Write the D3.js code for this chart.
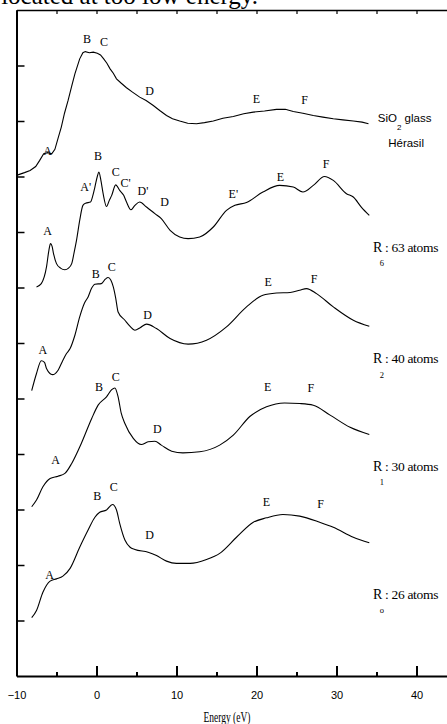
<!DOCTYPE html>
<html>
<head>
<meta charset="utf-8">
<script src="https://cdn.jsdelivr.net/npm/d3@7"></script>
<style>
  body { margin: 0; background: #fff; }
  svg { display: block; }
</style>
</head>
<body>
<svg id="chart" width="447" height="724"></svg>
<script>
  // ------------------------------------------------------------
  // Data (energy in eV, intensity in stacked arbitrary units)
  // ------------------------------------------------------------

  const sioEnergy = [-10, -9, -8.3, -7.6, -7.1, -6.6, -6.1, -5.6, -5.2, -4.8, -4.4, -4, -3.55, -3.1, -2.7, -2.1,
    -1.7, -1.4, -0.9, -0.4, 0.1, 0.5, 0.9, 1.3, 1.7, 2.1, 2.5, 3.1, 3.75, 4.5, 5.4, 6.2, 7.1, 7.9, 8.75, 9.5,
    10.4, 11.4, 12.5, 13.5, 14.6, 15.8, 17.1, 18.4, 19.6, 21, 22.5, 23.6, 24.6, 25.8, 27.1, 28.3, 29.6, 30.8,
    32.1, 33.2, 34];
  const sioValue = [9.02, 9.07, 9.11, 9.18, 9.29, 9.41, 9.43, 9.41, 9.49, 9.69, 9.89, 10.14, 10.37, 10.63, 10.85, 11.12,
    11.23, 11.25, 11.23, 11.24, 11.22, 11.19, 11.12, 11.04, 10.94, 10.86, 10.76, 10.68, 10.6, 10.52, 10.43, 10.37, 10.28, 10.19, 10.1, 10.04,
    10.0, 9.96, 9.95, 9.97, 10.0, 10.05, 10.08, 10.13, 10.16, 10.18, 10.21, 10.21, 10.17, 10.14, 10.1, 10.07, 10.04, 10.02,
    10.0, 9.98, 9.95];

  const r6Energy = [-7.5, -6.9, -6.25, -5.95, -5.75, -5.55, -5.4, -5, -4.5, -3.95, -3.5, -3.1, -2.8, -2.5, -2.1, -1.7,
    -1.35, -0.75, -0.45, -0.2, 0.1, 0.3, 0.55, 0.83, 1.25, 1.6, 1.9, 2.4, 2.9, 3.4, 3.75, 4.3, 4.8, 5.4, 6.25,
    7.3, 8.1, 9.2, 10.4, 11.45, 12.9, 14.6, 16.25, 17.3, 18.75, 20.8, 22.9, 24.6, 25.8, 27.1, 28.5, 29.6,
    31.25, 32.1, 33.1, 34.1];
  const r6Value = [7.01, 7.07, 7.37, 7.67, 7.79, 7.74, 7.63, 7.43, 7.35, 7.32, 7.35, 7.43, 7.63, 7.85, 8.21, 8.48,
    8.52, 8.54, 8.66, 8.81, 9.0, 9.08, 8.93, 8.69, 8.46, 8.57, 8.66, 8.85, 8.75, 8.66, 8.54, 8.4, 8.48, 8.54, 8.45,
    8.33, 8.24, 8.03, 7.91, 7.88, 7.91, 8.09, 8.39, 8.48, 8.53, 8.72, 8.84, 8.81, 8.72, 8.84, 9.0, 8.93,
    8.69, 8.63, 8.45, 8.3];

  const r2Energy = [-8.1, -7.5, -6.9, -6.5, -6.25, -5.5, -4.8, -4.2, -3.75, -3.3, -2.7, -2.1, -1.5, -1.05, -0.6, -0.2,
    0.6, 1.1, 1.45, 1.8, 2.1, 2.4, 2.7, 3.55, 4.2, 4.8, 5.5, 6.25, 7.5, 9.2, 11.45, 13.75, 16.25, 18.75, 20.8,
    22.5, 24.2, 25.4, 26.25, 27.5, 29.6, 32.1, 34.1];
  const r2Value = [5.14, 5.45, 5.68, 5.65, 5.54, 5.43, 5.51, 5.69, 5.81, 5.9, 6.14, 6.47, 6.72, 6.83, 6.99, 7.06,
    7.07, 7.15, 7.18, 7.13, 7.01, 6.81, 6.56, 6.41, 6.3, 6.23, 6.28, 6.34, 6.26, 6.08, 5.98, 6.05, 6.29, 6.65, 6.86,
    6.9, 6.91, 6.95, 6.98, 6.89, 6.65, 6.41, 6.3];

  const r1Energy = [-8.1, -7.5, -6.7, -5.8, -4.8, -3.95, -3.1, -1.9, -0.6, 0.2, 1.25, 1.9, 2.3, 2.7, 3.1, 3.55, 4.6,
    5.6, 6.45, 7.3, 8.1, 9.4, 10.8, 12.9, 15.4, 17.1, 19.2, 21.25, 23.5, 25.4, 27.1, 29.2, 31.7, 34.1];
  const r1Value = [3.05, 3.17, 3.41, 3.56, 3.6, 3.65, 3.83, 4.19, 4.64, 4.88, 5.03, 5.16, 5.19, 5.03, 4.73, 4.55, 4.28,
    4.17, 4.22, 4.23, 4.16, 4.05, 4.02, 4.04, 4.16, 4.34, 4.68, 4.85, 4.92, 4.91, 4.88, 4.7, 4.48, 4.35];

  const r0Energy = [-8.1, -7.5, -6.7, -5.8, -5, -4.2, -3.3, -2.1, -1.05, -0.2, 0.4, 1.25, 2, 2.5, 2.9, 3.55, 4.2, 4.8,
    6.45, 7.5, 8.75, 10, 11.7, 13.75, 15.4, 17.5, 19.6, 21.25, 23.3, 25.4, 27.9, 29.6, 32.1, 34.1];
  const r0Value = [1.05, 1.18, 1.51, 1.71, 1.75, 1.8, 1.94, 2.32, 2.63, 2.86, 2.95, 2.99, 3.09, 2.99, 2.75, 2.45, 2.32, 2.28,
    2.23, 2.17, 2.07, 2.03, 2.03, 2.1, 2.21, 2.5, 2.77, 2.85, 2.91, 2.88, 2.77, 2.68, 2.5, 2.4];

  // Peak letters: [text, energy, value]
  const peakLabels = [
    ["A", -6.1, 9.47], ["B", -1.2, 11.48], ["C", 0.95, 11.42], ["D", 6.65, 10.54], ["E", 20, 10.4], ["F", 26, 10.39],
    ["A", -6.1, 8.03], ["A'", -1.35, 8.81], ["B", 0.2, 9.38], ["C", 2.4, 9.09], ["C'", 3.65, 8.88], ["D'", 5.8, 8.75],
    ["D", 8.5, 8.55], ["E'", 17.1, 8.68], ["E", 23, 9.0], ["F", 28.7, 9.23],
    ["A", -6.7, 5.88], ["B", -0.1, 7.25], ["C", 1.9, 7.37], ["D", 6.4, 6.51], ["E", 21.45, 7.1], ["F", 27.2, 7.16],
    ["A", -5.1, 3.9], ["B", 0.3, 5.21], ["C", 2.4, 5.4], ["D", 7.6, 4.46], ["E", 21.4, 5.21], ["F", 26.8, 5.19],
    ["A", -5.85, 1.83], ["B", 0.1, 3.24], ["C", 2.15, 3.41], ["D", 6.65, 2.55], ["E", 21.25, 3.14], ["F", 28, 3.11]
  ];

  // Cluster labels: [main, subscript, rest, value]
  const clusterLabels = [
    ["R", "6", ": 63 atoms", 7.73],
    ["R", "2", ": 40 atoms", 5.72],
    ["R", "1", ": 30 atoms", 3.78],
    ["R", "o", ": 26 atoms", 1.47]
  ];

  const xTicksMajor = [-10, 0, 10, 20, 30, 40];
  const xTicksMinor = [-5, 5, 15, 25, 35, 45];
  const yTicks = [1, 2, 3, 4, 5, 6, 7, 8, 9, 10, 11];

  // ------------------------------------------------------------
  // Layout
  // ------------------------------------------------------------

  const svg = d3.select("#chart");
  const plotLeft = 16.5, plotTop = 10, plotBottom = 676;
  const x = d3.scaleLinear().domain([-10, 45]).range([plotLeft, plotLeft + 440]);
  const y = d3.scaleLinear().domain([0, 12]).range([plotBottom, plotTop]);

  const serif = "'Liberation Serif', 'Times New Roman', serif";
  const sans = "'Liberation Sans', Arial, sans-serif";

  // cut-off line of body text above the figure
  svg.append("text")
    .attr("x", 258).attr("y", 4)
    .attr("text-anchor", "end")
    .attr("font-family", serif).attr("font-size", 25)
    .text("located at too low energy.");

  // ------------------------------------------------------------
  // Axes / frame
  // ------------------------------------------------------------

  const bottomAxis = svg.append("g").attr("transform", `translate(0,${plotBottom})`)
    .call(d3.axisBottom(x).tickValues(xTicksMajor).tickSize(-10).tickSizeOuter(0).tickPadding(15)
      .tickFormat(d3.format("d")));
  bottomAxis.select(".domain").attr("stroke-width", 2);
  bottomAxis.selectAll(".tick line").attr("stroke-width", 2);
  bottomAxis.selectAll("text").attr("font-family", sans).attr("font-size", 11).attr("fill", "#000");

  const bottomMinor = svg.append("g").attr("transform", `translate(0,${plotBottom})`)
    .call(d3.axisBottom(x).tickValues(xTicksMinor).tickSize(-4).tickSizeOuter(0).tickFormat(""));
  bottomMinor.select(".domain").remove();
  bottomMinor.selectAll(".tick line").attr("stroke-width", 2);

  const topAxis = svg.append("g").attr("transform", `translate(0,${plotTop})`)
    .call(d3.axisTop(x).tickValues(xTicksMajor.concat(xTicksMinor)).tickSize(-4).tickSizeOuter(0).tickFormat(""));
  topAxis.select(".domain").attr("stroke-width", 1.5);
  topAxis.selectAll(".tick line").attr("stroke-width", 1.2);

  const leftAxis = svg.append("g").attr("transform", `translate(${plotLeft},0)`)
    .call(d3.axisLeft(y).tickValues(yTicks).tickSize(-8).tickSizeOuter(0).tickFormat(""));
  leftAxis.select(".domain").attr("stroke-width", 2);
  leftAxis.selectAll(".tick line").attr("stroke-width", 1.5);

  svg.append("text")
    .attr("x", 227).attr("y", 722)
    .attr("text-anchor", "middle")
    .attr("font-family", serif).attr("font-size", 14)
    .attr("textLength", 47).attr("lengthAdjust", "spacingAndGlyphs")
    .text("Energy (eV)");

  // ------------------------------------------------------------
  // Spectra
  // ------------------------------------------------------------

  const series = [
    { e: sioEnergy, v: sioValue, curve: d3.curveLinear },
    { e: r6Energy, v: r6Value, curve: d3.curveMonotoneX },
    { e: r2Energy, v: r2Value, curve: d3.curveMonotoneX },
    { e: r1Energy, v: r1Value, curve: d3.curveMonotoneX },
    { e: r0Energy, v: r0Value, curve: d3.curveMonotoneX }
  ];

  series.forEach(s => {
    const line = d3.line()
      .x((d, i) => x(s.e[i]))
      .y(d => y(d))
      .curve(s.curve);
    svg.append("path")
      .attr("d", line(s.v))
      .attr("fill", "none")
      .attr("stroke", "#000")
      .attr("stroke-width", 1.1);
  });

  svg.append("g").selectAll("text")
    .data(peakLabels)
    .join("text")
    .attr("x", d => x(d[1]))
    .attr("y", d => y(d[2]))
    .attr("dy", "0.35em")
    .attr("text-anchor", "middle")
    .attr("font-family", serif)
    .attr("font-size", 12)
    .text(d => d[0]);

  // ------------------------------------------------------------
  // Right-hand labels
  // ------------------------------------------------------------

  const sioLabel = svg.append("text")
    .attr("x", x(35.16)).attr("y", y(10.05)).attr("dy", "0.35em")
    .attr("font-family", sans).attr("font-size", 11.5);
  sioLabel.append("tspan").text("SiO");
  sioLabel.append("tspan").attr("dy", 8).attr("font-size", 8).text("2");
  sioLabel.append("tspan").attr("dy", -8).text(" glass");

  svg.append("text")
    .attr("x", x(38.7)).attr("y", y(9.61)).attr("dy", "0.35em")
    .attr("text-anchor", "middle")
    .attr("font-family", sans).attr("font-size", 11.5)
    .text("Hérasil");

  const cl = svg.append("g").selectAll("g")
    .data(clusterLabels)
    .join("g")
    .attr("transform", d => `translate(${x(34.55)},${y(d[3])})`);

  cl.append("text")
    .attr("dy", "0.35em")
    .attr("font-family", serif).attr("font-size", 14)
    .text(d => d[0]);

  cl.append("text")
    .attr("x", 9).attr("y", 16)
    .attr("dy", "0.35em")
    .attr("text-anchor", "middle")
    .attr("font-family", serif).attr("font-size", 8.5)
    .text(d => d[1]);

  cl.append("text")
    .attr("x", 12).attr("dy", "0.35em")
    .attr("font-family", serif).attr("font-size", 13.5)
    .attr("letter-spacing", -0.3)
    .text(d => d[2]);
</script>
</body>
</html>
